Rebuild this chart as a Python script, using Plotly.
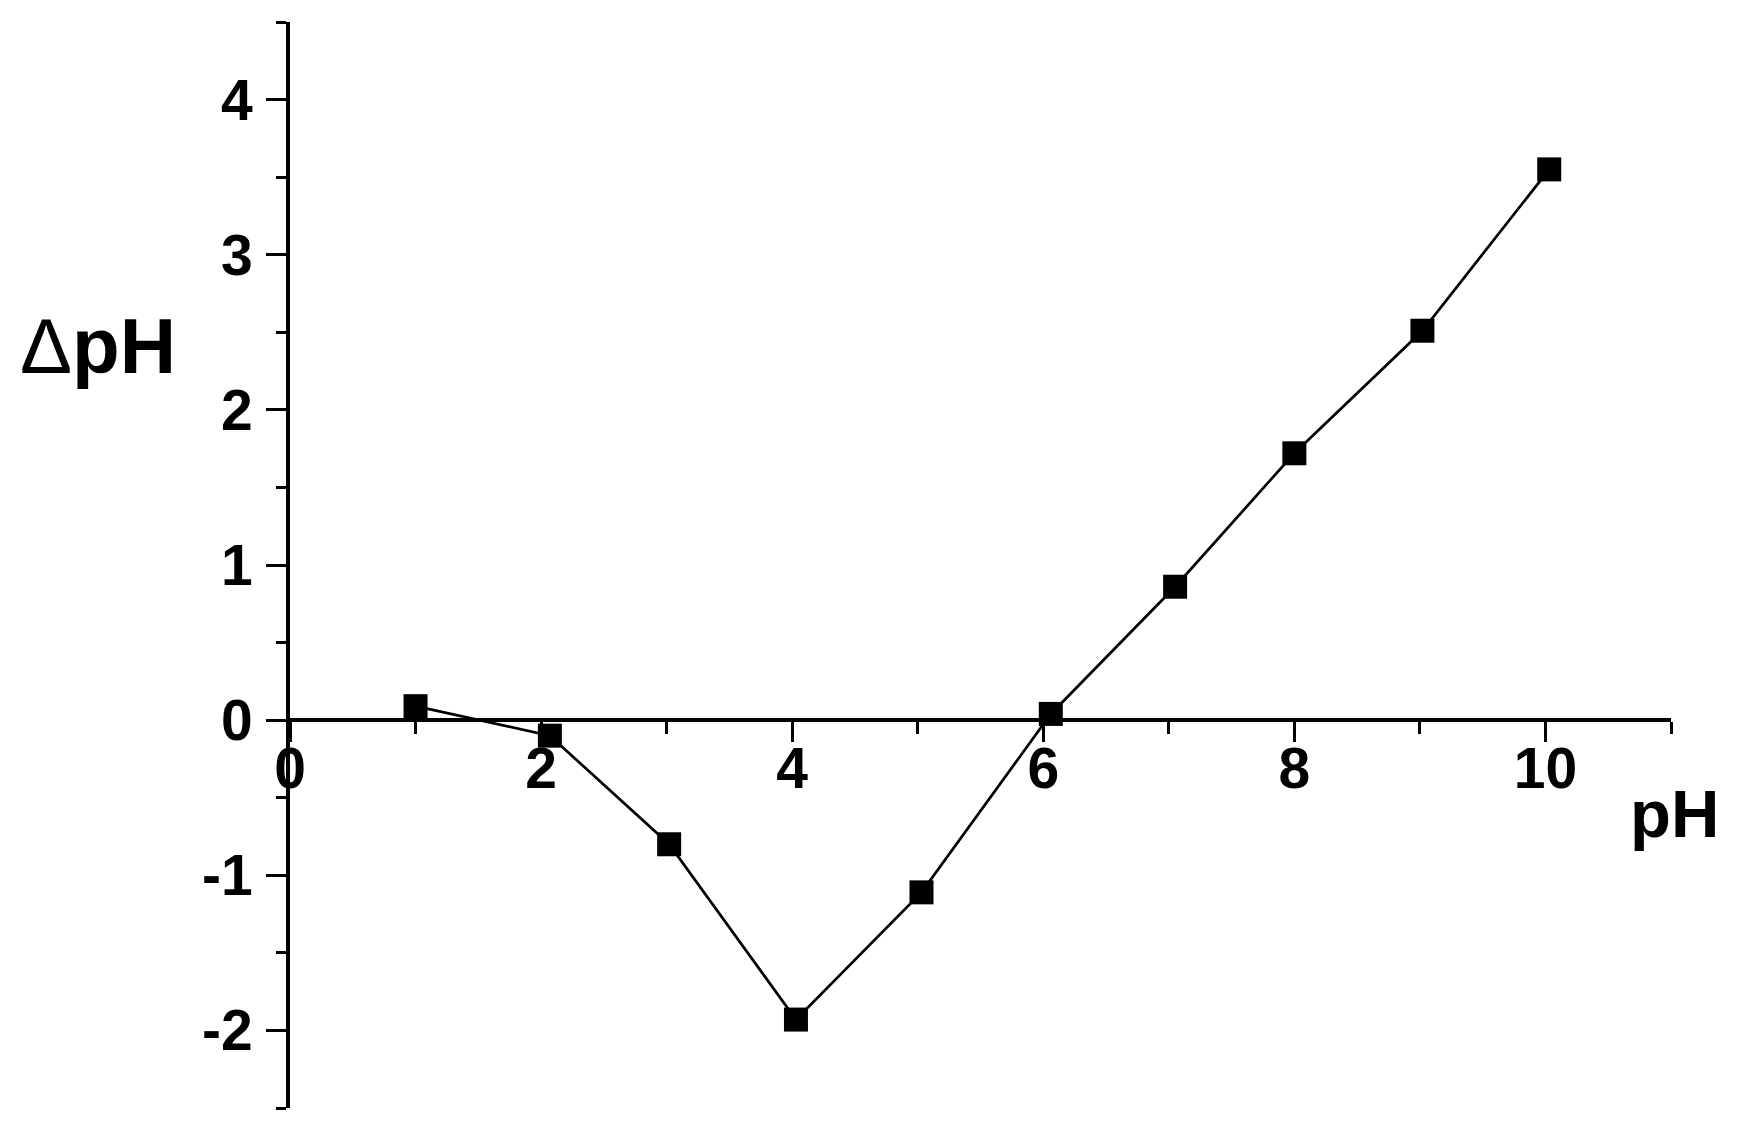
import plotly.graph_objects as go

# Data
ph = [1.0, 2.07, 3.02, 4.03, 5.03, 6.06, 7.05, 8.0, 9.02, 10.03]
delta_ph = [0.09, -0.10, -0.80, -1.93, -1.11, 0.04, 0.86, 1.72, 2.51, 3.55]

x_ticks = [0, 2, 4, 6, 8, 10]
y_ticks = [-2, -1, 0, 1, 2, 3, 4]

X_RANGE = [0, 11]
Y_RANGE = [-2.5, 4.5]

W, H = 1750, 1136
OFF = 8  # default page body margin
L, R, T, B = 290 - OFF, 79 + OFF, 22 - OFF, 28 + OFF

fig = go.Figure()
fig.add_trace(go.Scatter(
    x=ph, y=delta_ph, mode="lines+markers",
    line=dict(color="black", width=2.7),
    marker=dict(symbol="square", size=24, color="black"),
    showlegend=False, cliponaxis=False,
))

tickfont = dict(family="Liberation Sans, Arial, sans-serif", size=57, color="black", weight="bold")

x_pos = (0 - Y_RANGE[0]) / (Y_RANGE[1] - Y_RANGE[0])

fig.update_layout(
    width=W, height=H,
    margin=dict(l=L, r=R, t=T, b=B),
    paper_bgcolor="white", plot_bgcolor="white",
    xaxis=dict(
        range=X_RANGE, anchor="free", position=x_pos,
        showline=True, linecolor="black", linewidth=4,
        showgrid=False, zeroline=False,
        ticks="outside", ticklen=20, tickwidth=3, tickcolor="black",
        tickvals=x_ticks, ticktext=[str(v) for v in x_ticks],
        tickfont=tickfont, ticklabelstandoff=-23,
        minor=dict(dtick=1, ticks="outside", ticklen=12, tickwidth=3, tickcolor="black", showgrid=False),
    ),
    yaxis=dict(
        range=Y_RANGE,
        showline=True, linecolor="black", linewidth=4,
        showgrid=False, zeroline=False,
        ticks="outside", ticklen=20, tickwidth=3, tickcolor="black",
        tickvals=y_ticks, ticktext=[str(v) for v in y_ticks],
        tickfont=tickfont, ticklabelstandoff=2,
        minor=dict(dtick=0.5, ticks="outside", ticklen=10, tickwidth=3, tickcolor="black", showgrid=False),
    ),
)

plot_w = W - L - R
plot_h = H - T - B


def px_x(page_x):
    return (page_x - OFF - L) / plot_w


def px_y(page_y):
    return (H - B - (page_y - OFF)) / plot_h


fig.add_annotation(
    text="Δ<b>pH</b>", xref="paper", yref="paper",
    x=px_x(18), y=px_y(346),
    xanchor="left", yanchor="middle", showarrow=False,
    font=dict(family="Liberation Sans, Arial, sans-serif", size=78, color="black"),
)
fig.add_annotation(
    text="<b>pH</b>", xref="paper", yref="paper",
    x=px_x(1628), y=px_y(813),
    xanchor="left", yanchor="middle", showarrow=False,
    font=dict(family="Liberation Sans, Arial, sans-serif", size=67, color="black"),
)

fig.write_html("out.html")
